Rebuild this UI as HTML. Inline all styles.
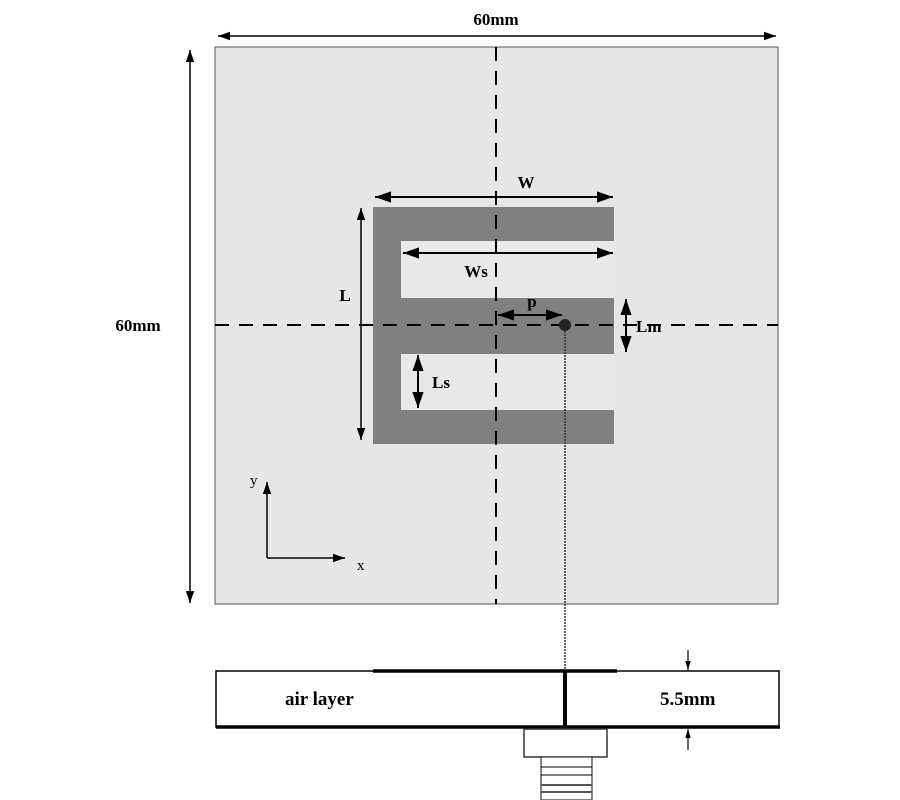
<!DOCTYPE html>
<html><head><style>body{margin:0;background:#fff}svg{display:block}</style></head><body>
<svg width="900" height="800" viewBox="0 0 900 800" font-family="Liberation Serif, serif" font-weight="bold">
<defs>
<marker id="a" viewBox="0 0 10 10" refX="10" refY="5" markerWidth="8" markerHeight="8" orient="auto-start-reverse"><path d="M0,1.5L10,5L0,8.5z" fill="#000"/></marker>
<marker id="s" viewBox="0 0 10 10" refX="10" refY="5" markerWidth="9" markerHeight="9" orient="auto-start-reverse" markerUnits="userSpaceOnUse"><path d="M0,2L10,5L0,8z" fill="#000"/></marker>
</defs>
<rect x="215" y="47" width="563" height="557" fill="#e6e6e6" stroke="#555" stroke-width="1"/>
<rect x="373" y="207" width="241" height="237" fill="#808080"/>
<rect x="401" y="241" width="213" height="57" fill="#e8e8e8"/>
<rect x="401" y="354" width="213" height="56" fill="#e8e8e8"/>
<line x1="496" y1="47" x2="496" y2="604" stroke="#000" stroke-width="2" stroke-dasharray="14,10"/>
<line x1="215" y1="325" x2="778" y2="325" stroke="#000" stroke-width="2" stroke-dasharray="14,10"/>
<line x1="218" y1="36" x2="776" y2="36" stroke="#000" stroke-width="1.5" marker-start="url(#a)" marker-end="url(#a)"/>
<text x="496" y="25" font-size="17" text-anchor="middle">60mm</text>
<line x1="190" y1="50" x2="190" y2="603" stroke="#000" stroke-width="1.5" marker-start="url(#a)" marker-end="url(#a)"/>
<text x="138" y="331" font-size="17" text-anchor="middle">60mm</text>
<line x1="375" y1="197" x2="613" y2="197" stroke="#000" stroke-width="2" marker-start="url(#a)" marker-end="url(#a)"/>
<text x="526" y="188" font-size="17" text-anchor="middle">W</text>
<line x1="403" y1="253" x2="613" y2="253" stroke="#000" stroke-width="2" marker-start="url(#a)" marker-end="url(#a)"/>
<text x="476" y="277" font-size="17" text-anchor="middle">Ws</text>
<line x1="498" y1="315" x2="562" y2="315" stroke="#000" stroke-width="2" marker-start="url(#a)" marker-end="url(#a)"/>
<text x="532" y="307" font-size="17" text-anchor="middle">p</text>
<line x1="361" y1="208" x2="361" y2="440" stroke="#000" stroke-width="1.5" marker-start="url(#a)" marker-end="url(#a)"/>
<text x="345" y="301" font-size="17" text-anchor="middle">L</text>
<line x1="418" y1="355" x2="418" y2="408" stroke="#000" stroke-width="2" marker-start="url(#a)" marker-end="url(#a)"/>
<text x="432" y="388" font-size="17">Ls</text>
<line x1="626" y1="299" x2="626" y2="352" stroke="#000" stroke-width="2" marker-start="url(#a)" marker-end="url(#a)"/>
<text x="636" y="332" font-size="17">Lm</text>
<circle cx="565" cy="325" r="6" fill="#222"/>
<line x1="565" y1="331" x2="565" y2="671" stroke="#333" stroke-width="1.5" stroke-dasharray="2,1"/>
<line x1="267" y1="558" x2="267" y2="482" stroke="#000" stroke-width="1.5" marker-end="url(#a)"/>
<line x1="267" y1="558" x2="345" y2="558" stroke="#000" stroke-width="1.5" marker-end="url(#a)"/>
<text x="250" y="485" font-size="15" font-weight="normal">y</text>
<text x="357" y="570" font-size="15" font-weight="normal">x</text>
<rect x="216" y="671" width="563" height="56" fill="#fff" stroke="#000" stroke-width="1.5"/>
<line x1="373" y1="671" x2="617" y2="671" stroke="#000" stroke-width="3.5"/>
<line x1="216" y1="727" x2="780" y2="727" stroke="#000" stroke-width="3.5"/>
<line x1="565" y1="671" x2="565" y2="727" stroke="#000" stroke-width="4"/>
<text x="285" y="705" font-size="19">air layer</text>
<text x="660" y="705" font-size="19">5.5mm</text>
<line x1="688" y1="650" x2="688" y2="670" stroke="#000" stroke-width="1.2" marker-end="url(#s)"/>
<line x1="688" y1="750" x2="688" y2="729" stroke="#000" stroke-width="1.2" marker-end="url(#s)"/>
<rect x="524" y="729" width="83" height="28" fill="#fff" stroke="#333" stroke-width="1.5"/>
<rect x="541" y="757" width="51" height="43" fill="#fff" stroke="#333" stroke-width="1.2"/>
<line x1="541" y1="767" x2="592" y2="767" stroke="#000"/>
<line x1="541" y1="775" x2="592" y2="775" stroke="#000"/>
<line x1="541" y1="785" x2="592" y2="785" stroke="#555" stroke-width="2"/>
<line x1="541" y1="792" x2="592" y2="792" stroke="#555" stroke-width="2"/>
</svg>
</body></html>
